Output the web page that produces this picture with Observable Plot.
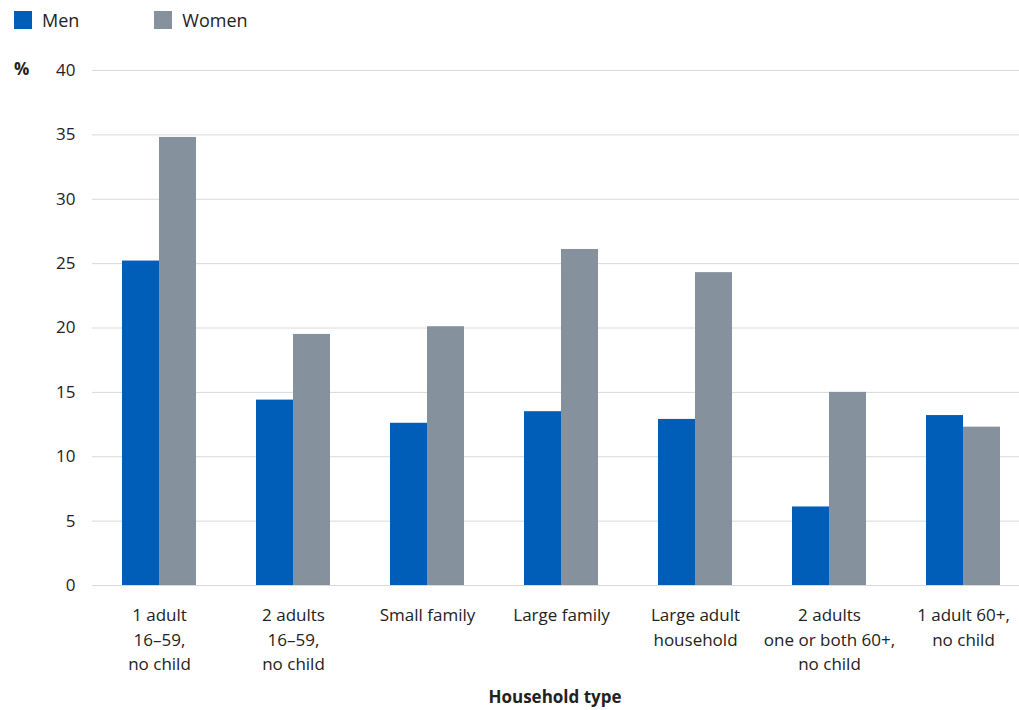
<!DOCTYPE html>
<html><head><meta charset="utf-8">
<script src="https://cdn.jsdelivr.net/npm/d3@7"></script>
<script src="https://cdn.jsdelivr.net/npm/@observablehq/plot@0.6"></script>
<style>
body{margin:0;font-family:"Open Sans",sans-serif;background:#fff;position:relative;overflow:hidden}
#legend{height:40px;display:flex;align-items:center;font-size:18px;color:#222;padding-left:14px}
.item{display:flex;align-items:center;margin-right:75px}
.sw{width:18px;height:18px;margin-right:10px}
.lab{position:absolute;font-weight:bold;font-size:17px;color:#222}
svg{overflow:visible}
</style></head><body>
<div id="legend"></div>
<div id="chart"></div>
<div class="lab" style="left:14px;top:57px">%</div>
<div class="lab" style="left:0;width:1110px;text-align:center;top:685px">Household type</div>
<script>
const categories = ["1 adult\n16–59,\nno child","2 adults\n16–59,\nno child","Small family","Large family","Large adult\nhousehold","2 adults\none or both 60+,\nno child","1 adult 60+,\nno child"];
const series = ["Men","Women"];
const men = [25.2,14.4,12.6,13.5,12.9,6.1,13.2];
const women = [34.8,19.5,20.1,26.1,24.3,15.0,12.3];
const colors = ["#005EB8","#85929E"];
const yTicks = [0,5,10,15,20,25,30,35,40];

const data = [];
categories.forEach((c,i)=>{data.push({cat:c,s:"Men",v:men[i]});data.push({cat:c,s:"Women",v:women[i]});});

const lg=document.getElementById("legend");
series.forEach((s,i)=>{lg.innerHTML+=`<div class="item"><div class="sw" style="background:${colors[i]}"></div>${s}</div>`;});

const chart = Plot.plot({
  width:1019, height:670, marginTop:30, marginBottom:125, marginLeft:92, marginRight:-11,
  style:{fontFamily:"Open Sans, sans-serif", fontSize:"17px", color:"#222", overflow:"visible"},
  fx:{domain:categories, padding:0, label:null, axis:null},
  x:{domain:series, paddingInner:0, paddingOuter:0.8, axis:null},
  y:{domain:[0,40], ticks:yTicks, label:null},
  color:{domain:series, range:colors},
  marks:[
    Plot.gridY(yTicks,{stroke:"#d9d9d9", strokeOpacity:1}),
    Plot.axisY(yTicks,{tickSize:0, tickPadding:17, fontSize:17, label:null}),
    Plot.axisFx({anchor:"bottom", tickSize:0, tickPadding:18, fontSize:17, lineHeight:1.45, label:null}),
    Plot.barY(data,{fx:"cat", x:"s", y:"v", fill:"s"})
  ]
});
document.getElementById("chart").appendChild(chart);
</script></body></html>
